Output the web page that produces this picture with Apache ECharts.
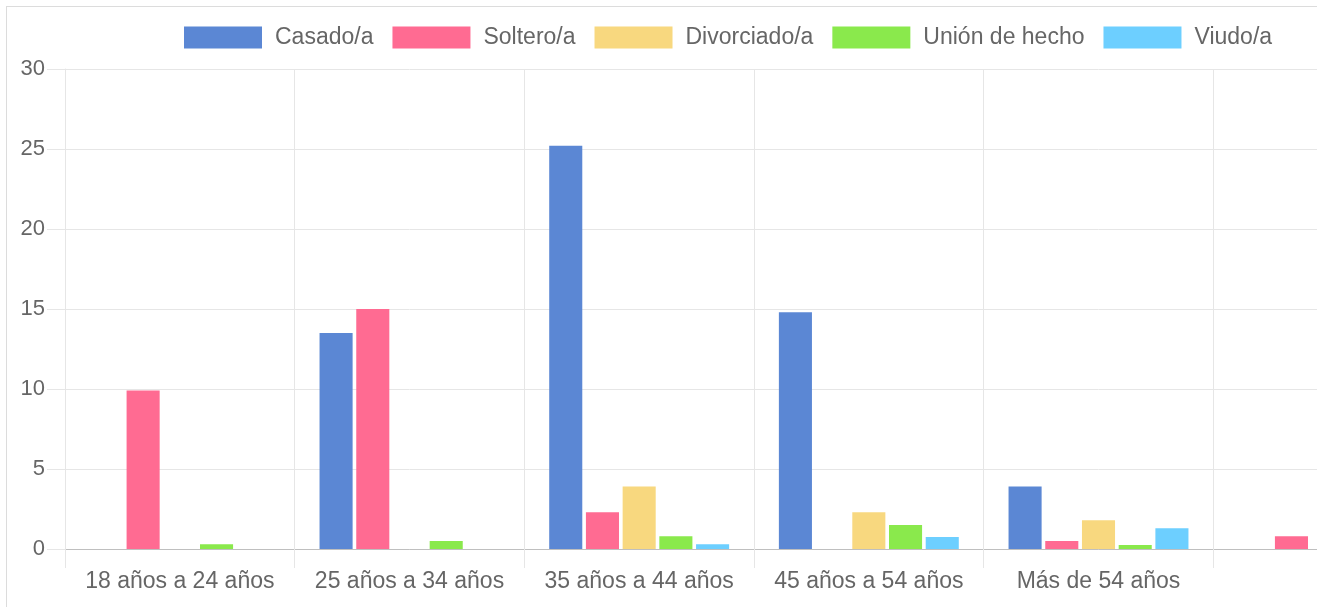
<!DOCTYPE html>
<html>
<head>
<meta charset="utf-8">
<script src="https://cdn.jsdelivr.net/npm/echarts@6/dist/echarts.min.js"></script>
<style>
  html, body {
    margin: 0;
    padding: 0;
    width: 1317px;
    height: 607px;
    overflow: hidden;
    background: #fff;
  }
  #frame {
    position: absolute;
    left: 6px;
    top: 6px;
    width: 1600px;
    height: 800px;
    border: 1px solid #dcdcdc;
    pointer-events: none;
  }
  #chart {
    position: absolute;
    left: 0;
    top: 0;
    width: 1460px;
    height: 607px;
  }
</style>
</head>
<body>
<div id="chart"></div>
<div id="frame"></div>
<script>
// categorias (la sexta no tiene etiqueta y queda cortada a la derecha)
const categories = ['18 años a 24 años', '25 años a 34 años', '35 años a 44 años', '45 años a 54 años', 'Más de 54 años', ''];
const seriesNames = ['Casado/a', 'Soltero/a', 'Divorciado/a', 'Unión de hecho', 'Viudo/a'];
const casado = [0, 13.5, 25.2, 14.8, 3.9, 0];
const soltero = [9.9, 15.0, 2.3, 0, 0.5, 0.8];
const divorciado = [0, 0, 3.9, 2.3, 1.8, 0];
const unionHecho = [0.3, 0.5, 0.8, 1.5, 0.25, 0];
const viudo = [0, 0, 0.3, 0.75, 1.3, 0];
const yTicks = [0, 5, 10, 15, 20, 25, 30];

const colors = ['#5b87d4', '#ff6b92', '#f8d87f', '#8ae94c', '#6dcfff'];

let myChart = echarts.init(document.getElementById('chart'));
let font = "'Liberation Sans', Arial, Helvetica, sans-serif";

let dataList = [casado, soltero, divorciado, unionHecho, viudo];
let series = seriesNames.map(function (name, i) {
  return {
    name: name,
    type: 'bar',
    barWidth: '14.4%',
    barGap: '11%',
    itemStyle: {
      color: colors[i]
    },
    data: dataList[i]
  };
});

let option = {
  animation: false,
  textStyle: { fontFamily: font },
  legend: {
    left: 179,
    top: 21,
    itemWidth: 78,
    itemHeight: 22,
    itemGap: 19,
    icon: 'rect',
    data: seriesNames,
    textStyle: {
      fontFamily: font,
      fontSize: 23,
      color: '#666',
      padding: [0, 0, 0, 8]
    }
  },
  grid: {
    left: 65,
    top: 69,
    right: 17,
    bottom: 58
  },
  xAxis: {
    type: 'category',
    data: categories,
    axisLine: { lineStyle: { color: '#bfbfbf', width: 1 } },
    axisTick: { show: true, length: 19, lineStyle: { color: '#e6e6e6' } },
    splitLine: { show: true, lineStyle: { color: '#e6e6e6' } },
    axisLabel: {
      color: '#666',
      fontSize: 23,
      fontFamily: font,
      margin: 21,
      interval: 0
    }
  },
  yAxis: {
    type: 'value',
    min: yTicks[0],
    max: yTicks[yTicks.length - 1],
    interval: 5,
    axisLine: { show: true, lineStyle: { color: '#e6e6e6' } },
    axisTick: { show: true, length: 18, lineStyle: { color: '#e6e6e6' } },
    splitLine: { lineStyle: { color: '#e6e6e6' } },
    axisLabel: {
      color: '#666',
      fontSize: 22,
      fontFamily: font,
      margin: 20
    }
  },
  series: series
};

option && myChart.setOption(option);
</script>
</body>
</html>
